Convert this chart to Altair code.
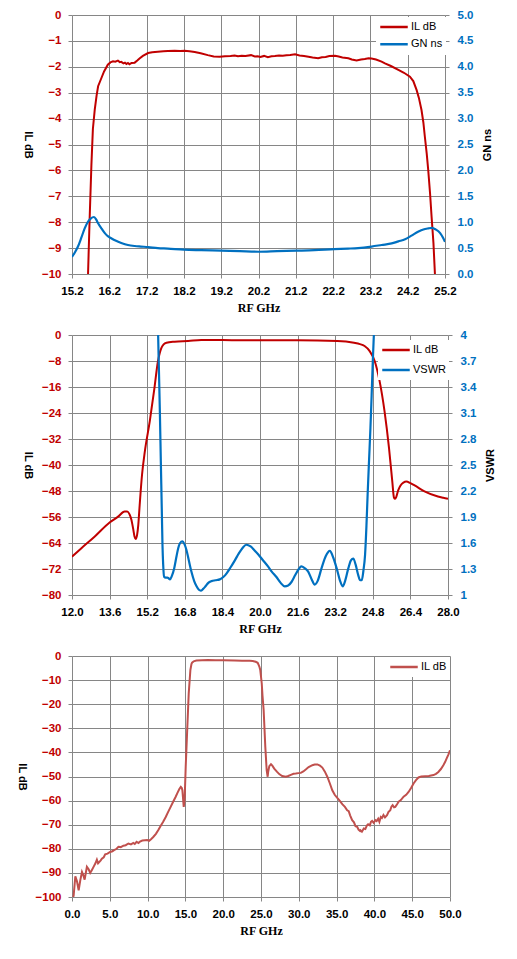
import altair as alt
import pandas as pd

RED = "#C00000"
BLUE = "#0070C0"
RED3 = "#C0504D"
GRID = "#868686"

# ---------------- Panel 1 data ----------------
p1_il_f = [15.60, 15.63, 15.67, 15.72, 15.76, 15.81, 15.86, 15.90, 15.97, 16.06, 16.16, 16.23, 16.30, 16.36,
           16.43, 16.48, 16.52, 16.58, 16.62, 16.66, 16.70, 16.74, 16.80, 16.88, 16.95, 17.01, 17.10, 17.24,
           17.35, 17.50, 17.65, 17.77, 17.95, 18.10, 18.22, 18.35, 18.49, 18.65, 18.84, 19.00, 19.16, 19.30,
           19.45, 19.56, 19.65, 19.75, 19.85, 20.00, 20.10, 20.18, 20.25, 20.35, 20.45, 20.55, 20.64, 20.75,
           20.85, 20.95, 21.05, 21.18, 21.30, 21.42, 21.54, 21.65, 21.80, 21.90, 22.00, 22.10, 22.25, 22.35,
           22.45, 22.61, 22.70, 22.83, 22.95, 23.05, 23.15, 23.23, 23.35, 23.50, 23.59, 23.75, 23.95, 24.10,
           24.26, 24.35, 24.44, 24.50, 24.57, 24.62, 24.66, 24.71, 24.75, 24.80, 24.84, 24.89, 24.93, 24.95]
p1_il_v = [-10.6, -10.0, -8.0, -5.8, -4.4, -3.65, -3.1, -2.75, -2.5, -2.18, -1.92, -1.83, -1.79, -1.80,
           -1.76, -1.82, -1.81, -1.87, -1.84, -1.89, -1.85, -1.90, -1.85, -1.84, -1.76, -1.68, -1.58, -1.47,
           -1.44, -1.42, -1.40, -1.39, -1.38, -1.39, -1.38, -1.40, -1.43, -1.48, -1.55, -1.60, -1.61, -1.59,
           -1.58, -1.56, -1.59, -1.57, -1.58, -1.55, -1.60, -1.59, -1.62, -1.58, -1.63, -1.59, -1.58, -1.56,
           -1.57, -1.55, -1.54, -1.52, -1.56, -1.58, -1.61, -1.64, -1.67, -1.63, -1.62, -1.58, -1.57, -1.60,
           -1.64, -1.67, -1.72, -1.76, -1.72, -1.70, -1.67, -1.68, -1.72, -1.80, -1.87, -1.97, -2.12, -2.23,
           -2.38, -2.55, -2.9, -3.2, -3.67, -4.15, -4.7, -5.35, -5.98, -6.9, -7.78, -8.8, -10.0, -10.5]
p1_gn_f = [15.20, 15.28, 15.36, 15.45, 15.54, 15.62, 15.70, 15.79, 15.85, 15.90, 16.00, 16.08, 16.16, 16.25,
           16.38, 16.52, 16.70, 16.88, 17.05, 17.24, 17.50, 17.77, 18.20, 18.66, 19.20, 19.70, 20.20, 20.70,
           21.23, 21.70, 22.23, 22.60, 22.87, 23.23, 23.50, 23.77, 23.95, 24.13, 24.30, 24.49, 24.62, 24.75,
           24.85, 24.95, 25.07, 25.14, 25.20]
p1_gn_v = [0.33, 0.42, 0.53, 0.70, 0.88, 1.00, 1.07, 1.10, 1.05, 0.98, 0.87, 0.79, 0.73, 0.69,
           0.64, 0.60, 0.56, 0.54, 0.53, 0.52, 0.50, 0.49, 0.47, 0.46, 0.45, 0.44, 0.43, 0.44,
           0.45, 0.46, 0.48, 0.49, 0.50, 0.53, 0.56, 0.59, 0.63, 0.67, 0.74, 0.82, 0.86, 0.88,
           0.89, 0.86, 0.79, 0.71, 0.62]
p1_x_ticks = [15.2, 16.2, 17.2, 18.2, 19.2, 20.2, 21.2, 22.2, 23.2, 24.2, 25.2]
p1_yl_ticks = [-10, -9, -8, -7, -6, -5, -4, -3, -2, -1, 0]
p1_yr_ticks = [0.0, 0.5, 1.0, 1.5, 2.0, 2.5, 3.0, 3.5, 4.0, 4.5, 5.0]
p1_series = ["IL dB", "GN ns"]

# ---------------- Panel 2 data ----------------
p2_il_f = [12.00, 12.40, 12.97, 13.60, 13.96, 14.24, 14.35, 14.45, 14.53, 14.60, 14.66, 14.71, 14.77, 14.82,
           14.88, 14.98, 15.10, 15.31, 15.49, 15.66, 15.74, 15.81, 15.90, 16.02, 16.37, 16.94, 17.50, 18.40,
           19.21, 19.92, 21.60, 23.30, 24.00, 24.25, 24.45, 24.66, 24.88, 25.09, 25.30, 25.49, 25.63, 25.70,
           25.75, 25.80, 25.88, 25.98, 26.10, 26.23, 26.40, 26.58, 27.00, 27.57, 27.80, 28.00]
p2_il_v = [-68.2, -65.6, -62.0, -57.7, -55.9, -54.3, -54.3, -55.2, -56.9, -59.5, -62.0, -62.8, -61.5, -58.5,
           -52.3, -43.0, -35.8, -26.5, -17.3, -8.0, -5.4, -3.9, -2.9, -2.4, -2.06, -1.85, -1.54, -1.54,
           -1.65, -1.65, -1.65, -1.85, -2.4, -2.8, -3.4, -4.9, -8.0, -14.2, -23.5, -34.8, -45.1, -50.0,
           -50.4, -49.8, -47.8, -46.3, -45.4, -45.1, -45.6, -46.3, -48.1, -49.7, -50.1, -50.4]
p2_vs_f = [15.64, 15.69, 15.74, 15.78, 15.82, 15.85, 15.88, 15.92, 15.98, 16.06, 16.12, 16.17, 16.25, 16.35,
           16.45, 16.52, 16.60, 16.70, 16.78, 16.87, 16.97, 17.08, 17.20, 17.30, 17.40, 17.48, 17.58, 17.68,
           17.80, 17.94, 18.10, 18.29, 18.45, 18.58, 18.75, 18.93, 19.10, 19.25, 19.42, 19.60, 19.75, 19.92,
           20.10, 20.34, 20.50, 20.69, 20.88, 21.05, 21.20, 21.34, 21.50, 21.65, 21.76, 21.90, 22.05, 22.20,
           22.33, 22.45, 22.62, 22.80, 22.97, 23.12, 23.26, 23.40, 23.52, 23.62, 23.76, 23.87, 23.97, 24.07,
           24.18, 24.26, 24.33, 24.40, 24.47, 24.53, 24.58, 24.64, 24.70, 24.75, 24.80, 24.86, 24.90]
p2_vs_v = [4.3, 3.7, 3.1, 2.54, 2.0, 1.58, 1.35, 1.21, 1.20, 1.20, 1.19, 1.18, 1.22, 1.31,
           1.45, 1.54, 1.60, 1.62, 1.59, 1.52, 1.40, 1.27, 1.16, 1.10, 1.06, 1.05, 1.07, 1.10,
           1.14, 1.16, 1.17, 1.18, 1.21, 1.25, 1.32, 1.40, 1.48, 1.54, 1.58, 1.56, 1.52, 1.47,
           1.41, 1.33, 1.27, 1.21, 1.14, 1.10, 1.11, 1.15, 1.23, 1.30, 1.33, 1.31, 1.27, 1.18,
           1.12, 1.16, 1.31, 1.45, 1.51, 1.43, 1.31, 1.17, 1.10, 1.16, 1.31, 1.40, 1.42, 1.35,
           1.23, 1.17, 1.17, 1.28, 1.46, 1.8, 2.16, 2.55, 2.93, 3.3, 3.7, 4.1, 4.4]
p2_x_ticks = [12.0, 13.6, 15.2, 16.8, 18.4, 20.0, 21.6, 23.2, 24.8, 26.4, 28.0]
p2_yl_ticks = [-80, -72, -64, -56, -48, -40, -32, -24, -16, -8, 0]
p2_yr_ticks = [1.0, 1.3, 1.6, 1.9, 2.2, 2.5, 2.8, 3.1, 3.4, 3.7, 4.0]
p2_series = ["IL dB", "VSWR"]

# ---------------- Panel 3 data ----------------
p3_f = [0.10, 0.22, 0.44, 0.66, 0.88, 1.10, 1.32, 1.50, 1.67, 1.97, 2.20, 2.41, 2.60, 2.85, 3.10, 3.29,
        3.45, 3.60, 3.80, 3.95, 4.20, 4.39, 4.70, 5.04, 5.35, 5.70, 5.90, 6.14, 6.45, 6.80, 7.10, 7.46,
        7.80, 8.11, 8.30, 8.55, 8.80, 9.00, 9.30, 9.65, 9.95, 10.20, 10.45, 10.75, 11.10, 11.40, 11.70,
        12.06, 12.40, 12.72, 13.05, 13.38, 13.70, 13.95, 14.20, 14.39, 14.52, 14.60, 14.70, 14.78, 14.85,
        14.91, 15.04, 15.22, 15.44, 15.66, 15.80, 15.88, 16.10, 16.45, 17.20, 17.98, 19.00, 20.00, 21.50,
        22.50, 23.50, 23.90, 24.30, 24.56, 24.70, 24.78, 24.90, 25.10, 25.20, 25.35, 25.57, 25.75, 25.88,
        25.95, 26.10, 26.32, 26.50, 26.75, 27.10, 27.41, 27.80, 28.29, 28.60, 28.95, 29.30, 29.60, 29.95,
        30.26, 30.60, 30.92, 31.30, 31.80, 32.10, 32.46, 32.80, 33.11, 33.45, 33.77, 34.10, 34.43, 34.75,
        35.09, 35.40, 35.75, 36.10, 36.40, 36.60, 36.80, 37.06, 37.30, 37.50, 37.72, 37.90, 38.10, 38.16,
        38.35, 38.60, 38.80, 39.00, 39.17, 39.40, 39.55, 39.70, 39.90, 40.13, 40.30, 40.50, 40.66, 40.85,
        41.00, 41.20, 41.40, 41.67, 41.85, 42.10, 42.25, 42.41, 42.60, 42.76, 43.00, 43.20, 43.50, 43.86,
        44.20, 44.52, 44.85, 45.18, 45.50, 45.83, 46.20, 46.71, 47.20, 47.81, 48.15, 48.46, 48.80, 49.12,
        49.35, 49.56, 49.80, 50.00]
p3_v = [-101.0, -99.3, -91.4, -93.5, -97.2, -93.0, -89.6, -91.0, -92.8, -87.5, -88.5, -90.0, -89.0, -87.5, -86.0, -84.5,
        -86.0, -85.5, -84.8, -84.1, -83.5, -82.3, -82.0, -81.3, -81.0, -80.3, -80.0, -79.2, -79.3, -78.7, -78.5, -77.8,
        -78.2, -77.6, -78.0, -77.1, -77.6, -77.0, -76.6, -76.5, -76.4, -76.7, -76.0, -75.1, -73.8, -72.3, -70.6,
        -68.8, -66.8, -64.7, -62.6, -60.5, -58.5, -56.8, -55.2, -54.3, -54.8, -55.7, -59.5, -62.6, -61.0,
        -58.4, -46.0, -32.1, -15.5, -5.8, -3.3, -2.8, -2.2, -1.9, -1.8, -1.7, -1.75, -1.8, -1.9,
        -1.95, -2.0, -2.1, -2.4, -2.8, -3.8, -4.4, -5.8, -11.4, -16.5, -22.4, -37.7, -47.4, -50.1,
        -48.0, -45.7, -44.9, -45.5, -46.7, -48.0, -49.0, -49.8, -50.1, -49.8, -49.3, -48.9, -48.8, -48.6,
        -48.5, -47.9, -47.1, -46.1, -45.3, -45.0, -45.0, -45.5, -46.3, -48.0, -50.1, -52.8, -55.7, -57.6,
        -58.9, -60.0, -61.5, -62.6, -64.0, -64.4, -66.2, -68.1, -69.0, -70.6, -70.9, -72.0, -72.6, -72.3,
        -72.9, -71.6, -71.8, -70.4, -69.8, -70.3, -68.8, -68.4, -69.2, -68.1, -68.5, -67.5, -68.8, -66.8,
        -67.2, -66.0, -67.0, -66.1, -64.8, -64.0, -62.5, -61.9, -62.8, -62.6, -61.5, -60.5, -59.8, -58.4,
        -57.6, -56.4, -54.8, -52.9, -51.5, -50.4, -50.0, -49.9, -49.8, -49.4, -48.9, -48.1, -46.9, -45.3,
        -44.0, -42.5, -40.8, -39.1]
p3_x_ticks = [0, 5, 10, 15, 20, 25, 30, 35, 40, 45, 50]
p3_y_ticks = [-100, -90, -80, -70, -60, -50, -40, -30, -20, -10, 0]
p3_series = ["IL dB"]

LABEL_FONT = "Liberation Sans"
LFS = 11.5


def x_enc(domain, ticks, fmt):
    return alt.X(
        "f:Q",
        scale=alt.Scale(domain=domain, nice=False, zero=False),
        axis=alt.Axis(values=ticks, format=fmt, title="RF GHz", grid=True,
                      titleFont="Liberation Serif", titleFontSize=12, titlePadding=6,
                      labelColor="black", labelPadding=7, labelFlush=False),
    )


def yl_enc(domain, ticks, fmt):
    return alt.Y(
        "v:Q",
        scale=alt.Scale(domain=domain, nice=False, zero=False),
        axis=alt.Axis(values=ticks, format=fmt, orient="left", title="IL dB", grid=True,
                      labelColor=RED, titlePadding=8, labelPadding=7,
                      titleAngle=90, titleBaseline="top"),
    )


def yr_enc(domain, ticks, fmt, title):
    return alt.Y(
        "v:Q",
        scale=alt.Scale(domain=domain, nice=False, zero=False),
        axis=alt.Axis(values=ticks, format=fmt, orient="right", title=title, grid=False,
                      labelColor=BLUE, titlePadding=9, labelPadding=8,
                      titleAngle=270, titleBaseline="top"),
    )


def legend(x, y, row_pad):
    return alt.Legend(title=None, orient="none", legendX=x, legendY=y, direction="vertical",
                      fillColor="white", padding=3, labelFont=LABEL_FONT, labelFontSize=11,
                      labelColor="black", symbolType="stroke", symbolSize=756,
                      symbolStrokeWidth=2.5, clipHeight=14, rowPadding=row_pad, labelOffset=2)


# Panel 1
d1a = pd.DataFrame({"f": p1_il_f, "v": p1_il_v, "s": p1_series[0]})
d1b = pd.DataFrame({"f": p1_gn_f, "v": p1_gn_v, "s": p1_series[1]})
c1 = alt.Color("s:N", scale=alt.Scale(domain=p1_series, range=[RED, BLUE]), legend=legend(304, 2, 3.3))
x1 = x_enc([15.2, 25.2], p1_x_ticks, ".1f")
l1a = alt.Chart(d1a).mark_line(clip=True, strokeWidth=2).encode(
    x=x1, y=yl_enc([-10, 0], p1_yl_ticks, "d"), color=c1)
l1b = alt.Chart(d1b).mark_line(clip=True, strokeWidth=2.2, interpolate="monotone").encode(
    x=x1, y=yr_enc([0, 5], p1_yr_ticks, ".1f", "GN ns"), color=c1)
p1 = alt.layer(l1a, l1b).resolve_scale(y="independent").properties(width=373, height=259)

# Panel 2
d2a = pd.DataFrame({"f": p2_il_f, "v": p2_il_v, "s": p2_series[0]})
d2b = pd.DataFrame({"f": p2_vs_f, "v": p2_vs_v, "s": p2_series[1]})
c2 = alt.Color("s:N", scale=alt.Scale(domain=p2_series, range=[RED, BLUE]), legend=legend(306, 5, 6))
x2 = x_enc([12, 28], p2_x_ticks, ".1f")
l2a = alt.Chart(d2a).mark_line(clip=True, strokeWidth=2, interpolate="monotone").encode(
    x=x2, y=yl_enc([-80, 0], p2_yl_ticks, "d"), color=c2)
l2b = alt.Chart(d2b).mark_line(clip=True, strokeWidth=2.2, interpolate="monotone").encode(
    x=x2, y=yr_enc([1, 4], p2_yr_ticks, ".1~f", "VSWR"), color=c2)
p2 = alt.layer(l2a, l2b).resolve_scale(y="independent").properties(width=376, height=260)

# Panel 3
d3 = pd.DataFrame({"f": p3_f, "v": p3_v, "s": p3_series[0]})
c3 = alt.Color("s:N", scale=alt.Scale(domain=p3_series, range=[RED3]), legend=legend(314, 1, 3))
p3 = alt.Chart(d3).mark_line(clip=True, strokeWidth=2).encode(
    x=x_enc([0, 50], p3_x_ticks, ".1f"), y=yl_enc([-100, 0], p3_y_ticks, "d"), color=c3
).properties(width=378, height=241)

chart = alt.vconcat(p1, p2, p3, spacing=61, bounds="flush").resolve_scale(
    color="independent").properties(
    padding={"left": 8, "top": 1, "right": 5, "bottom": 5}
).configure_view(stroke=None).configure_axis(
    gridColor=GRID, tickColor=GRID, tickSize=4, domain=False, gridOpacity=1,
    labelFont=LABEL_FONT, labelFontWeight="bold", labelFontSize=LFS,
    titleFont=LABEL_FONT, titleFontWeight="bold", titleFontSize=11, titleColor="black",
).configure_legend(labelLimit=0)

chart.save("out.html", embed_options={"renderer": "svg", "actions": False})
